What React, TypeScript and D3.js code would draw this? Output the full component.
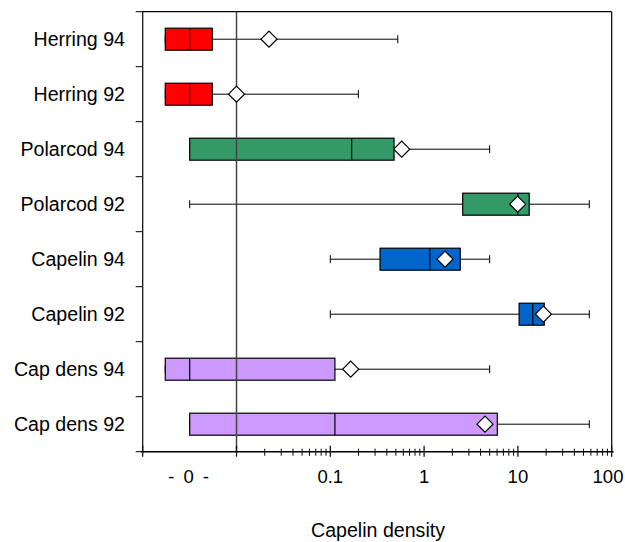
import React from "react";
import * as d3 from "d3";

const categories = ["Herring 94", "Herring 92", "Polarcod 94", "Polarcod 92", "Capelin 94", "Capelin 92", "Cap dens 94", "Cap dens 92"];
const minVals = [0.00174, 0.00174, 0.00317, 0.00317, 0.1, 0.1, 0.00174, 0.00317];
const q1Vals = [0.00174, 0.00174, 0.00317, 2.58, 0.339, 10.3, 0.00174, 0.00317];
const medianVals = [0.00317, 0.00317, 0.169, 10, 1.15, 14.4, 0.00317, 0.112];
const q3Vals = [0.00552, 0.00552, 0.478, 13.2, 2.43, 19.1, 0.112, 6.03];
const maxVals = [0.524, 0.199, 5, 57.7, 5, 57.7, 5, 57.7];
const meanVals = [0.0222, 0.01, 0.577, 9.95, 1.67, 18.7, 0.165, 4.46];
const boxColors = ["#FF0000", "#FF0000", "#339966", "#339966", "#0066CC", "#0066CC", "#CC99FF", "#CC99FF"];
const majorTicks = [0.001, 0.01, 0.1, 1, 10, 100];
const tickLabels = [
  { v: 0.00316, t: "- 0 -" },
  { v: 0.1, t: "0.1" },
  { v: 1, t: "1" },
  { v: 10, t: "10" },
  { v: 100, t: "100" },
];
const zeroLineValue = 0.01;

export default function App() {
  const W = 625, H = 542;
  const left = 142.7, right = 611.7, top = 11.7, bottom = 451.7;
  const x = d3.scaleLog().domain([0.001, 100]).range([left, right]);
  const y = d3.scaleBand<string>().domain(categories).range([top, bottom]).padding(0);
  const bw = y.bandwidth();
  const boxH = 22;
  const capH = 8;
  const dm = 8;

  const minorTicks: number[] = [];
  [0.01, 0.1, 1, 10].forEach((d) => {
    for (let k = 2; k <= 9; k++) minorTicks.push(d * k);
  });

  const font = "Arial, 'Liberation Sans', sans-serif";
  const fs = 19.6;
  const tfs = 18.5;

  return (
    <svg width={W} height={H} style={{ position: "absolute", left: 0, top: 0 }}>
      <rect x={0} y={0} width={W} height={H} fill="#fff" />
      {/* whiskers */}
      {categories.map((c, i) => {
        const cy = (y(c) as number) + bw / 2;
        return (
          <g key={"w" + c} stroke="#000" strokeWidth={1}>
            <line x1={x(minVals[i])} x2={x(maxVals[i])} y1={cy} y2={cy} />
            <line x1={x(minVals[i])} x2={x(minVals[i])} y1={cy - capH / 2} y2={cy + capH / 2} />
            <line x1={x(maxVals[i])} x2={x(maxVals[i])} y1={cy - capH / 2} y2={cy + capH / 2} />
          </g>
        );
      })}
      {/* boxes */}
      {categories.map((c, i) => {
        const cy = (y(c) as number) + bw / 2;
        return (
          <g key={"b" + c}>
            <rect x={x(q1Vals[i])} y={cy - boxH / 2} width={x(q3Vals[i]) - x(q1Vals[i])} height={boxH}
              fill={boxColors[i]} stroke="#000" strokeWidth={1.2} />
            <line x1={x(medianVals[i])} x2={x(medianVals[i])} y1={cy - boxH / 2} y2={cy + boxH / 2} stroke="#000" strokeWidth={1.2} />
          </g>
        );
      })}
      {/* zero line */}
      <line x1={x(zeroLineValue)} x2={x(zeroLineValue)} y1={top} y2={bottom} stroke="#444" strokeWidth={1.5} />
      {/* means */}
      {categories.map((c, i) => {
        const cy = (y(c) as number) + bw / 2;
        const mx = x(meanVals[i]);
        return (
          <path key={"m" + c} d={`M${mx - dm},${cy} L${mx},${cy - dm} L${mx + dm},${cy} L${mx},${cy + dm} Z`}
            fill="#fff" stroke="#000" strokeWidth={1.2} />
        );
      })}
      {/* frame */}
      <line x1={left} x2={right} y1={top} y2={top} stroke="#000" strokeWidth={1.2} />
      <line x1={right} x2={right} y1={top} y2={bottom} stroke="#000" strokeWidth={1.2} />
      <line x1={left} x2={left} y1={top} y2={bottom} stroke="#000" strokeWidth={1.2} />
      <line x1={left - 2} x2={right + 2} y1={bottom} y2={bottom} stroke="#000" strokeWidth={1.5} />
      {/* y ticks */}
      {categories.map((c) => (
        <line key={"yt" + c} x1={left - 7} x2={left} y1={y(c) as number} y2={y(c) as number} stroke="#000" strokeWidth={1} />
      ))}
      <line x1={left - 7} x2={left} y1={bottom} y2={bottom} stroke="#000" strokeWidth={1} />
      {/* x ticks */}
      {majorTicks.map((v) => (
        <line key={"mt" + v} x1={x(v)} x2={x(v)} y1={bottom - 6} y2={bottom + 5} stroke="#000" strokeWidth={1.2} />
      ))}
      {minorTicks.map((v) => (
        <line key={"nt" + v} x1={x(v)} x2={x(v)} y1={bottom - 3} y2={bottom + 4} stroke="#000" strokeWidth={1} />
      ))}
      {/* x labels */}
      {tickLabels.map((d) => (
        <text key={"xl" + d.t} x={Math.min(x(d.v), 608)} y={482.5} textAnchor="middle" fontFamily={font} fontSize={tfs}
          letterSpacing={d.t === "- 0 -" ? 2 : 0} fill="#000">
          {d.t}
        </text>
      ))}
      {/* y labels */}
      {categories.map((c) => (
        <text key={"yl" + c} x={125} y={(y(c) as number) + bw / 2 + 6.8} textAnchor="end" fontFamily={font} fontSize={fs}
          fill="#000">
          {c}
        </text>
      ))}
      <text x={378} y={537} textAnchor="middle" fontFamily={font} fontSize={fs} fill="#000">
        Capelin density
      </text>
    </svg>
  );
}
